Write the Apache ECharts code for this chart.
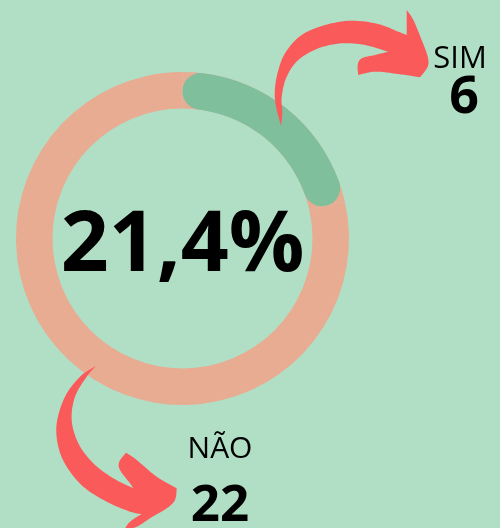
<!DOCTYPE html>
<html>
<head>
<meta charset="utf-8">
<script src="https://cdn.jsdelivr.net/npm/echarts@6/dist/echarts.min.js"></script>
<style>
  html, body { margin: 0; padding: 0; background: #b0dfc6; }
  #main { width: 500px; height: 528px; }
</style>
</head>
<body>
<div id="main"></div>
<script>
// dados
var categorias = ['SIM', 'NÃO'];
var valores = [6, 22];
var cores = ['#7fbf9c', '#e8ac93'];

var total = valores[0] + valores[1];
var pct = (valores[0] / total * 100).toFixed(1).replace('.', ',') + '%';

// setas (decoracao): trechos suaves, cantos vivos entre eles
var setaCima = [
  [[281,126],[275,100],[276.7,76.7],[285,53.3],[301.7,35],[325,25],[351.7,20.7],[378,24],[398.3,31.7],[406.7,35]],
  [[406.7,35],[406.7,10]],
  [[406.7,10],[413.3,20],[421.7,40],[427.7,56.7],[427.7,66.7],[420,77.3]],
  [[420,77.3],[398.3,74],[375,71.7],[358.3,75]],
  [[358.3,75],[357.7,65],[361.7,58.3],[375,55],[388.3,51.7]],
  [[388.3,51.7],[365,45],[341.7,43.3],[318.3,48.3],[298.3,60],[286.7,76.7],[281.7,96.7],[282.3,113.3],[281,126]]
];
var setaBaixo = [
  [[96,366],[80,376.7],[65,396.7],[56.7,423.3],[58.3,446.7],[66.7,466.7],[83.3,486.7],[106.7,501.7],[130,511.7],[141.7,514]],
  [[141.7,514],[130,521.7],[124,530]],
  [[124,530],[136.7,526.7],[150,518.3],[166.7,508.3],[175,500],[176.7,488.3]],
  [[176.7,488.3],[156.7,476.7],[136.7,460],[126,452.7]],
  [[126,452.7],[119.3,461.7],[120,470],[130,483.3],[133.3,488.3]],
  [[133.3,488.3],[113.3,478.3],[93.3,463.3],[78.3,443.3],[71.7,420],[75,396.7],[86.7,376.7],[96,366]]
];

// catmull-rom amostrado -> pontos do poligono
function contorno(trechos) {
  var pts = [];
  trechos.forEach(function (p) {
    for (var i = 0; i < p.length - 1; i++) {
      var p0 = p[i - 1] || p[i], p1 = p[i], p2 = p[i + 1], p3 = p[i + 2] || p[i + 1];
      var c1 = [p1[0] + (p2[0] - p0[0]) / 6, p1[1] + (p2[1] - p0[1]) / 6];
      var c2 = [p2[0] - (p3[0] - p1[0]) / 6, p2[1] - (p3[1] - p1[1]) / 6];
      for (var k = 0; k < 8; k++) {
        var t = k / 8, u = 1 - t;
        pts.push([
          u*u*u*p1[0] + 3*u*u*t*c1[0] + 3*u*t*t*c2[0] + t*t*t*p2[0],
          u*u*u*p1[1] + 3*u*u*t*c1[1] + 3*u*t*t*c2[1] + t*t*t*p2[1]
        ]);
      }
    }
  });
  return pts;
}

var myChart = echarts.init(document.getElementById('main'));

var base = categorias.map(function (c, i) {
  return { name: c, value: valores[i], itemStyle: { color: cores[1] } };
});
var frente = categorias.map(function (c, i) {
  return {
    name: c, value: valores[i],
    itemStyle: i == 0 ? { color: cores[0], borderRadius: 18 } : { color: 'transparent' }
  };
});

var option = {
  backgroundColor: '#b0dfc6',
  animation: false,
  series: [
    {
      type: 'pie', silent: true,
      center: [182.5, 238.5], radius: [130, 166.5],
      startAngle: 90, clockwise: true,
      label: { show: false }, labelLine: { show: false },
      data: base
    },
    {
      type: 'pie', silent: true,
      center: [182.5, 238.5], radius: [130, 166.5],
      startAngle: 90, clockwise: true,
      label: { show: false }, labelLine: { show: false },
      data: frente
    }
  ],
  graphic: [
    { type: 'polygon', shape: { points: contorno(setaCima) }, style: { fill: '#fb5a5a' }, z: 10 },
    { type: 'polygon', shape: { points: contorno(setaBaixo) }, style: { fill: '#fb5a5a' }, z: 10 },
    { type: 'text', x: 182.5, y: 247, z: 20,
      style: { text: pct, font: 'bold 84px "Open Sans"', fill: '#000', align: 'center', verticalAlign: 'middle' } },
    { type: 'text', x: 460, y: 59, z: 20,
      style: { text: categorias[0], font: '31px "Open Sans"', fill: '#000', align: 'center', verticalAlign: 'middle' } },
    { type: 'text', x: 464, y: 98, z: 20,
      style: { text: String(valores[0]), font: 'bold 52px "Open Sans"', fill: '#000', align: 'center', verticalAlign: 'middle' } },
    { type: 'text', x: 220, y: 449.5, z: 20,
      style: { text: categorias[1], font: '30px "Open Sans"', fill: '#000', align: 'center', verticalAlign: 'middle' } },
    { type: 'text', x: 220, y: 506, z: 20,
      style: { text: String(valores[1]), font: 'bold 51px "Open Sans"', fill: '#000', align: 'center', verticalAlign: 'middle' } }
  ]
};
myChart.setOption(option);
</script>
</body>
</html>
